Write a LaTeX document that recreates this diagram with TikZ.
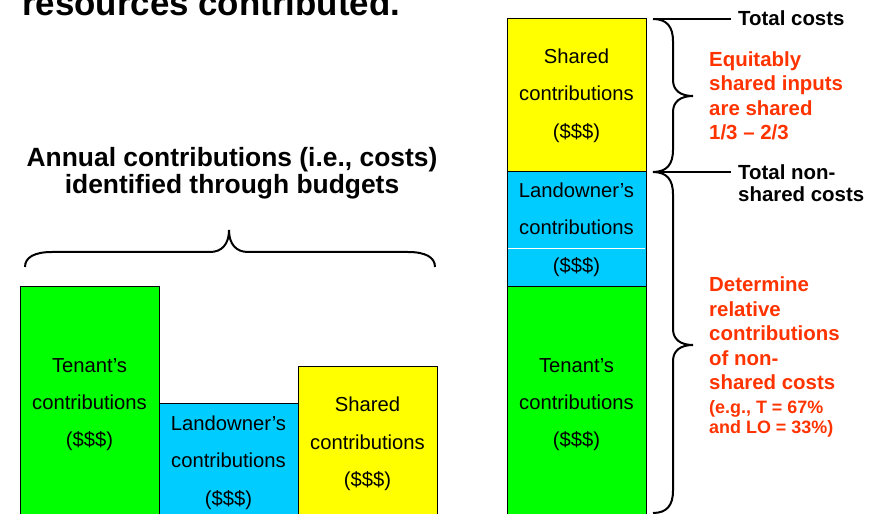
\documentclass[tikz,border=0pt]{standalone}
\usepackage{fontspec}
\setmainfont{Liberation Sans}
\usetikzlibrary{positioning}
\definecolor{tgreen}{RGB}{0,255,0}
\definecolor{lblue}{RGB}{0,204,255}
\definecolor{syellow}{RGB}{255,255,0}
\definecolor{nred}{RGB}{255,51,0}

\begin{document}
\begin{tikzpicture}[x=1bp, y=1bp, % one unit = one pixel
	bar/.style={draw, line width=1bp, minimum width=139bp, inner sep=0pt, outer sep=0pt,
		align=center, font=\fontsize{20.3}{37.5}\selectfont},
	note/.style={anchor=west, inner sep=0pt, align=left,
		font=\bfseries\fontsize{20.5}{24.5}\selectfont},
	bracket/.style={line width=2bp} % braces and total lines
	]
	\useasboundingbox (0,0) rectangle (882,-514);

	\node[anchor=base west, inner sep=0pt, font=\bfseries\fontsize{35}{40}\selectfont]
		(title) at (22,-16) {resources contributed.};
	\node[align=center, inner sep=0pt, font=\bfseries\fontsize{26.5}{27}\selectfont]
		(head) at (232,-173) {Annual contributions (i.e., costs)\\identified through budgets};

	% left: three separate bars
	\node[bar, fill=tgreen, minimum height=235bp, anchor=north west] (t1) at (20,-287)
		{Tenant’s\\contributions\\(\$\$\$)};
	\node[bar, fill=lblue, minimum height=119bp, anchor=south west] (l1) at (t1.south east)
		{Landowner’s\\contributions\\(\$\$\$)};
	\node[bar, fill=syellow, minimum height=156bp, anchor=south west] (s1) at (l1.south east)
		{Shared\\contributions\\(\$\$\$)};

	\draw[bracket] (25,-267) .. controls (25,-257) and (35,-252) .. (52,-252) -- (210,-252)
		.. controls (222,-252) and (229,-244) .. (229,-230)
		.. controls (229,-244) and (236,-252) .. (248,-252) -- (408,-252)
		.. controls (425,-252) and (435,-257) .. (435,-267);

	% right: stacked bar
	\node[bar, fill=tgreen, minimum height=235bp, anchor=north west] (t2) at (507,-287)
		{Tenant’s\\contributions\\(\$\$\$)};
	\node[bar, fill=lblue, minimum height=115bp, anchor=south west] (l2) at (t2.north west)
		{Landowner’s\\contributions\\(\$\$\$)};
	\node[bar, fill=syellow, minimum height=153bp, anchor=south west] (s2) at (l2.north west)
		{Shared\\contributions\\(\$\$\$)};
	\draw[white, line width=1bp] ([yshift=-77bp,xshift=1bp]l2.north west) -- ([yshift=-77bp,xshift=-1bp]l2.north east);

	\node[note] (tc) at (738,-18) {Total costs};
	\node[note, font=\bfseries\fontsize{20.5}{22.6}\selectfont] (tn) at (738,-183) {Total non-\\shared costs};
	\node[note, text=nred] (eq) at (709,-96) {Equitably\\shared inputs\\are shared\\1/3 -- 2/3};
	\node[note, text=nred] (det) at (709,-333.5) {Determine\\relative\\contributions\\of non-\\shared costs};
	\node[note, text=nred, font=\bfseries\fontsize{18}{20.5}\selectfont] (eg) at (709,-419)
		{(e.g., T = 67\%\\and LO = 33\%)};

	\coordinate (c1) at (653,-19);
	\coordinate (c2) at (653,-172);
	\coordinate (c3) at (653,-513);
	\draw[bracket] (c1) -- (731,-19);
	\draw[bracket] (c2) -- (731,-172);
	\draw[bracket] (c1) .. controls (667,-19) and (673,-27) .. (673,-41) -- (673,-80)
		.. controls (673,-90) and (680,-96) .. (693,-96)
		.. controls (680,-96) and (673,-102) .. (673,-112) -- (673,-150)
		.. controls (673,-164) and (667,-172) .. (c2);
	\draw[bracket] (c2) .. controls (667,-172) and (673,-180) .. (673,-194) -- (673,-329)
		.. controls (673,-339) and (680,-345) .. (693,-345)
		.. controls (680,-345) and (673,-351) .. (673,-361) -- (673,-491)
		.. controls (673,-505) and (667,-513) .. (c3);

\end{tikzpicture}
\end{document}
